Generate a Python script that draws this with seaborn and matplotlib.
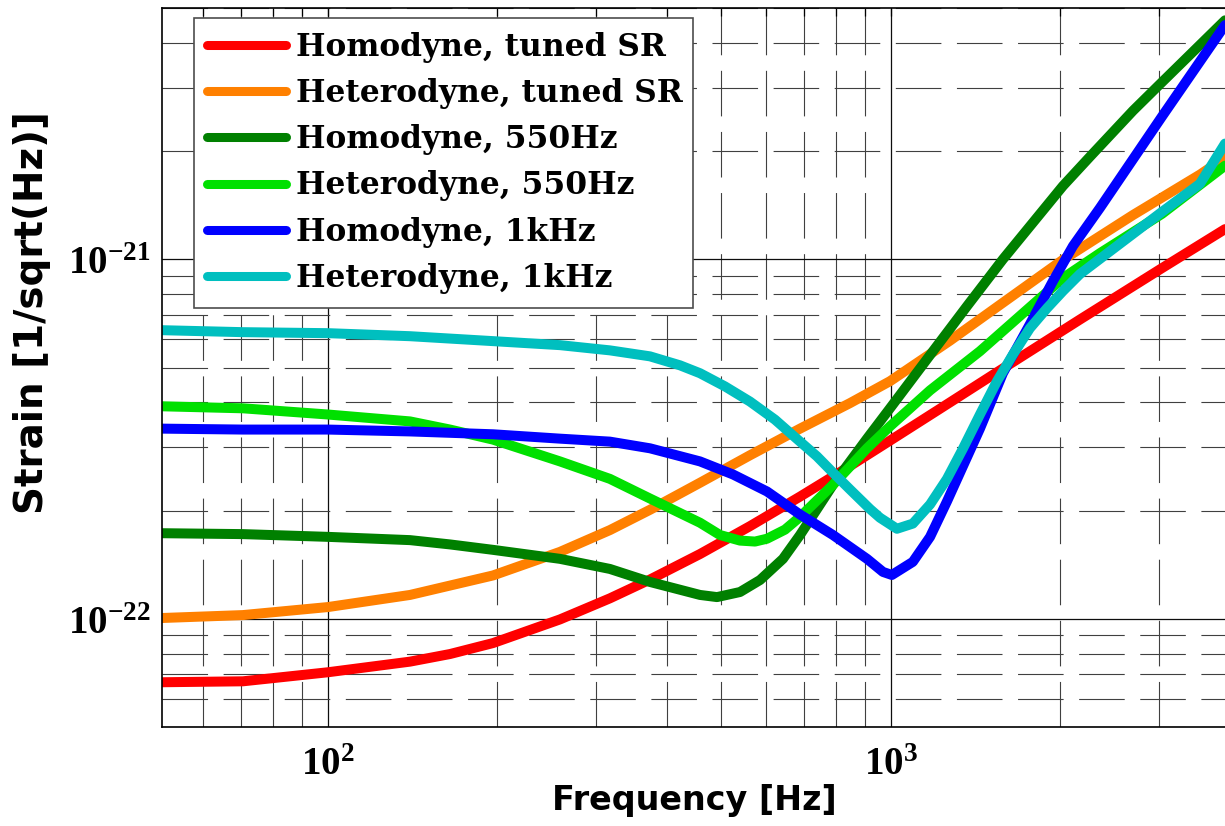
"""
Strain sensitivity for homodyne / heterodyne readout at several SR detunings.
"""

import numpy as np
import pandas as pd
import matplotlib
matplotlib.use('Agg')
import matplotlib.pyplot as plt
from matplotlib.ticker import FixedLocator, LogLocator, NullFormatter, FuncFormatter
import seaborn as sns

# Values (frequency in Hz, strain in 1/sqrt(Hz))
labels = ['Homodyne, tuned SR', 'Heterodyne, tuned SR', 'Homodyne, 550Hz',
          'Heterodyne, 550Hz', 'Homodyne, 1kHz', 'Heterodyne, 1kHz']
colors = ['#FF0000', '#FF8000', '#008000', '#00E000', '#0000FF', '#00BFBF']

f_homo_tuned = [50.7, 70.6, 100, 139.9, 164.8, 196.5, 258.4, 317, 373.5, 458.3, 562.3, 690.1,
                846.5, 997.2, 1275, 1564, 2170, 3035, 3928]
h_homo_tuned = [6.66e-23, 6.70e-23, 7.10e-23, 7.60e-23, 7.98e-23, 8.56e-23, 9.96e-23, 1.14e-22,
                1.286e-22, 1.514e-22, 1.81e-22, 2.187e-22, 2.66e-22, 3.13e-22, 4.0e-22, 4.91e-22,
                6.80e-22, 9.45e-22, 1.213e-21]

f_het_tuned = [50.7, 70.6, 100, 139.9, 196.5, 258.4, 317, 373.5, 458.3, 562.3, 690.1, 846.5,
               997.2, 1275, 1564, 2024, 2696, 3545, 3928]
h_het_tuned = [1.005e-22, 1.024e-22, 1.078e-22, 1.165e-22, 1.32e-22, 1.535e-22, 1.765e-22,
               2.01e-22, 2.39e-22, 2.85e-22, 3.38e-22, 3.98e-22, 4.58e-22, 5.94e-22, 7.47e-22,
               9.97e-22, 1.328e-21, 1.72e-21, 1.917e-21]

f_homo_550 = [50.7, 70.6, 100, 139.9, 164.8, 196.5, 258.4, 317, 373.5, 458.3, 491.3, 539.8, 586,
              643.6, 690.1, 789.7, 907.7, 997.2, 1189, 1367, 1583, 2024, 2261, 2696, 3010, 3928]
h_homo_550 = [1.73e-22, 1.72e-22, 1.69e-22, 1.655e-22, 1.61e-22, 1.555e-22, 1.468e-22, 1.376e-22,
              1.266e-22, 1.165e-22, 1.149e-22, 1.187e-22, 1.282e-22, 1.468e-22, 1.71e-22, 2.36e-22,
              3.17e-22, 3.85e-22, 5.55e-22, 7.41e-22, 1.0e-21, 1.6e-21, 1.93e-21, 2.59e-21,
              3.07e-21, 4.62e-21]

f_het_550 = [50.7, 70.6, 100, 139.9, 164.8, 196.5, 258.4, 317, 373.5, 458.3, 497.4, 539.8, 574,
             602.9, 649, 690.1, 789.7, 907.7, 997.2, 1175, 1441, 2024, 2355, 3035, 3928]
h_het_550 = [3.90e-22, 3.85e-22, 3.70e-22, 3.54e-22, 3.36e-22, 3.15e-22, 2.74e-22, 2.45e-22,
             2.16e-22, 1.85e-22, 1.71e-22, 1.65e-22, 1.64e-22, 1.67e-22, 1.77e-22, 1.92e-22,
             2.36e-22, 2.98e-22, 3.43e-22, 4.32e-22, 5.55e-22, 8.87e-22, 1.04e-21, 1.338e-21,
             1.821e-21]

f_homo_1k = [50.7, 70.6, 100, 139.9, 196.5, 258.4, 317, 373.5, 458.3, 524.6, 602.9, 690.1,
             789.7, 907.7, 969, 1005, 1095, 1175, 1259, 1441, 1583, 1768, 1943, 2109, 2355,
             3035, 3928]
h_homo_1k = [3.38e-22, 3.36e-22, 3.36e-22, 3.32e-22, 3.26e-22, 3.17e-22, 3.11e-22, 2.98e-22,
             2.74e-22, 2.52e-22, 2.26e-22, 1.95e-22, 1.71e-22, 1.468e-22, 1.35e-22, 1.324e-22,
             1.44e-22, 1.69e-22, 2.12e-22, 3.38e-22, 4.82e-22, 6.60e-22, 8.70e-22, 1.089e-21,
             1.39e-21, 2.495e-21, 4.48e-21]

f_het_1k = [50.7, 70.6, 100, 139.9, 196.5, 258.4, 317, 373.5, 422.3, 458.3, 507.6, 562.3, 622.9,
            690.1, 739.6, 789.7, 846.5, 918.9, 957.2, 1026, 1095, 1175, 1259, 1345, 1441,
            1545, 1650, 1768, 1896, 2024, 2170, 2696, 3035, 3545, 3928]
h_het_1k = [6.35e-22, 6.27e-22, 6.23e-22, 6.11e-22, 5.92e-22, 5.77e-22, 5.58e-22, 5.37e-22,
            5.07e-22, 4.82e-22, 4.43e-22, 4.02e-22, 3.58e-22, 3.11e-22, 2.83e-22, 2.55e-22,
            2.29e-22, 2.02e-22, 1.91e-22, 1.78e-22, 1.84e-22, 2.08e-22, 2.45e-22, 2.98e-22,
            3.70e-22, 4.58e-22, 5.44e-22, 6.43e-22, 7.31e-22, 8.16e-22, 9.10e-22, 1.177e-21,
            1.355e-21, 1.622e-21, 2.098e-21]

freqs = [f_homo_tuned, f_het_tuned, f_homo_550, f_het_550, f_homo_1k, f_het_1k]
strains = [h_homo_tuned, h_het_tuned, h_homo_550, h_het_550, h_homo_1k, h_het_1k]

x_major = [100, 1000]
y_major = [1e-22, 1e-21]


def build_frame():
    """Long-form table for seaborn."""
    parts = []
    for lab, f, h in zip(labels, freqs, strains):
        parts.append(pd.DataFrame({'freq': f, 'strain': h, 'curve': lab}))
    return pd.concat(parts, ignore_index=True)


def exp_label(val, pos):
    e = int(round(np.log10(val)))
    return r'$\mathbf{10^{%d}}$' % e


sns.set_style('white')
plt.rcParams['font.family'] = ['DejaVu Sans']
plt.rcParams['text.color'] = 'black'
plt.rcParams['axes.labelcolor'] = 'black'
plt.rcParams['xtick.color'] = 'black'
plt.rcParams['ytick.color'] = 'black'
plt.rcParams['mathtext.fontset'] = 'custom'
plt.rcParams['mathtext.rm'] = 'Liberation Serif:bold'
plt.rcParams['mathtext.bf'] = 'Liberation Serif:bold'
plt.rcParams['mathtext.it'] = 'Liberation Serif:bold'

fig = plt.figure(figsize=(12.25, 8.26), dpi=100)
ax = fig.add_axes([0.13224, 0.11985, 0.86776, 0.87046])
ax.set_xscale('log')
ax.set_yscale('log')

df = build_frame()
sns.lineplot(data=df, x='freq', y='strain', hue='curve', hue_order=labels,
             palette=dict(zip(labels, colors)), estimator=None, legend=False,
             lw=7.2, solid_capstyle='round', solid_joinstyle='round', ax=ax)

ax.set_xlim(50.7, 3928)
ax.set_ylim(5e-23, 5e-21)

# log ticks, MATLAB-like grid
ax.xaxis.set_major_locator(FixedLocator(x_major))
ax.yaxis.set_major_locator(FixedLocator(y_major))
for axis in (ax.xaxis, ax.yaxis):
    axis.set_minor_locator(LogLocator(base=10, subs=np.arange(2, 10), numticks=20))
    axis.set_major_formatter(FuncFormatter(exp_label))
    axis.set_minor_formatter(NullFormatter())

ax.set_axisbelow(True)
ax.grid(which='major', color='0.05', lw=0.9, ls='-')
ax.grid(which='minor', color='0.25', lw=0.8, ls=(0, (41, 14)))

ax.tick_params(which='both', direction='in', top=True, right=False,
               length=6, width=0.9, color='black')
ax.tick_params(which='major', labelsize=28, pad=8, labelcolor='black')
ax.tick_params(axis='x', which='major', pad=13)

for side in ['left', 'bottom', 'top']:
    ax.spines[side].set_color('black')
    ax.spines[side].set_linewidth(1.2)
ax.spines['right'].set_visible(False)

ax.set_xlabel('Frequency [Hz]', fontsize=24, fontweight='bold', color='black')
ax.set_ylabel('Strain [1/sqrt(Hz)]', fontsize=28, fontweight='bold', color='black')
ax.xaxis.set_label_coords(0.501, -0.102)
ax.yaxis.set_label_coords(-0.122, 0.576)
ax.xaxis.label.set_va('center')
ax.yaxis.label.set_va('center')

handles = ax.get_lines()[:len(labels)]
leg = ax.legend(handles, labels, loc='upper left',
                bbox_to_anchor=(0.0301, 0.5, 0.4694, 0.486), mode='expand',
                borderaxespad=0, borderpad=0.43, labelspacing=0.49,
                handlelength=2.5, handletextpad=0.35, fancybox=False,
                framealpha=1, edgecolor='0.3', labelcolor='black',
                prop={'family': 'DejaVu Serif', 'weight': 'bold', 'size': 22.5})
leg.get_frame().set_linewidth(1.2)
for line in leg.get_lines():
    line.set_linewidth(6.5)
    line.set_solid_capstyle('round')

fig.savefig('out.png', dpi=100)
plt.close(fig)
